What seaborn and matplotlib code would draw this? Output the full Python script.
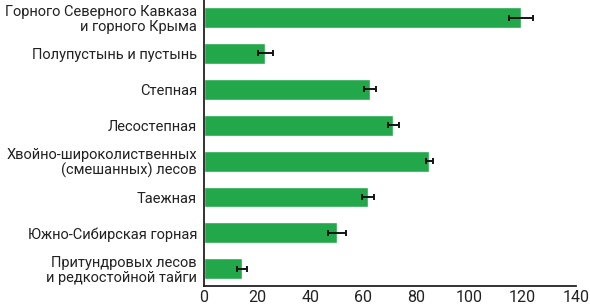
import matplotlib
matplotlib.use("Agg")
import matplotlib.pyplot as plt
import seaborn as sns
import pandas as pd

categories = [
    "Горного Северного Кавказа\nи горного Крыма",
    "Полупустынь и пустынь",
    "Степная",
    "Лесостепная",
    "Хвойно-широколиственных\n(смешанных) лесов",
    "Таежная",
    "Южно-Сибирская горная",
    "Притундровых лесов\nи редкостойной тайги",
]
values = [119.3, 23.0, 62.5, 71.3, 84.8, 61.8, 49.9, 14.4]
errors = [4.6, 2.8, 2.2, 2.0, 1.4, 2.2, 3.4, 1.8]
xticks = [0, 20, 40, 60, 80, 100, 120, 140]

sns.set_theme(style="white")
plt.rcParams['font.family'] = ['Roboto', 'DejaVu Sans']

df = pd.DataFrame({"cat": categories, "val": values, "err": errors})

fig = plt.figure(figsize=(5.9, 3.05), dpi=100)
ax = fig.add_axes([0.3458, 0.0623, 0.976 - 0.3458, 0.9377])
sns.barplot(data=df, y="cat", x="val", orient="h", color="#22a84a",
            saturation=1, width=0.58, ax=ax, errorbar=None)
ax.errorbar(df["val"], range(len(df)), xerr=df["err"], fmt="none",
            ecolor="#141414", elinewidth=1.4, capsize=2.5, capthick=1.4)

ax.set_xlim(0, 140)
ax.set_ylim(7.48, -0.49)
ax.set_xticks(xticks)
ax.set_xticklabels([str(t) for t in xticks], fontsize=11.5, color="#222222")
ax.set_xlabel("")
ax.set_ylabel("")
ax.tick_params(axis="y", length=0, labelsize=10.5, labelcolor="#222222", pad=5)
ax.tick_params(axis="x", direction="in", length=5, width=1, color="#222222", pad=3)
for lbl in ax.get_yticklabels():
    lbl.set_horizontalalignment("right")
    lbl.set_multialignment("right")
    lbl.set_linespacing(1.05)
for s in ["top", "right"]:
    ax.spines[s].set_visible(False)
for s in ["left", "bottom"]:
    ax.spines[s].set_color("#222222")
    ax.spines[s].set_linewidth(1.3)

fig.savefig("out.png", dpi=100)
